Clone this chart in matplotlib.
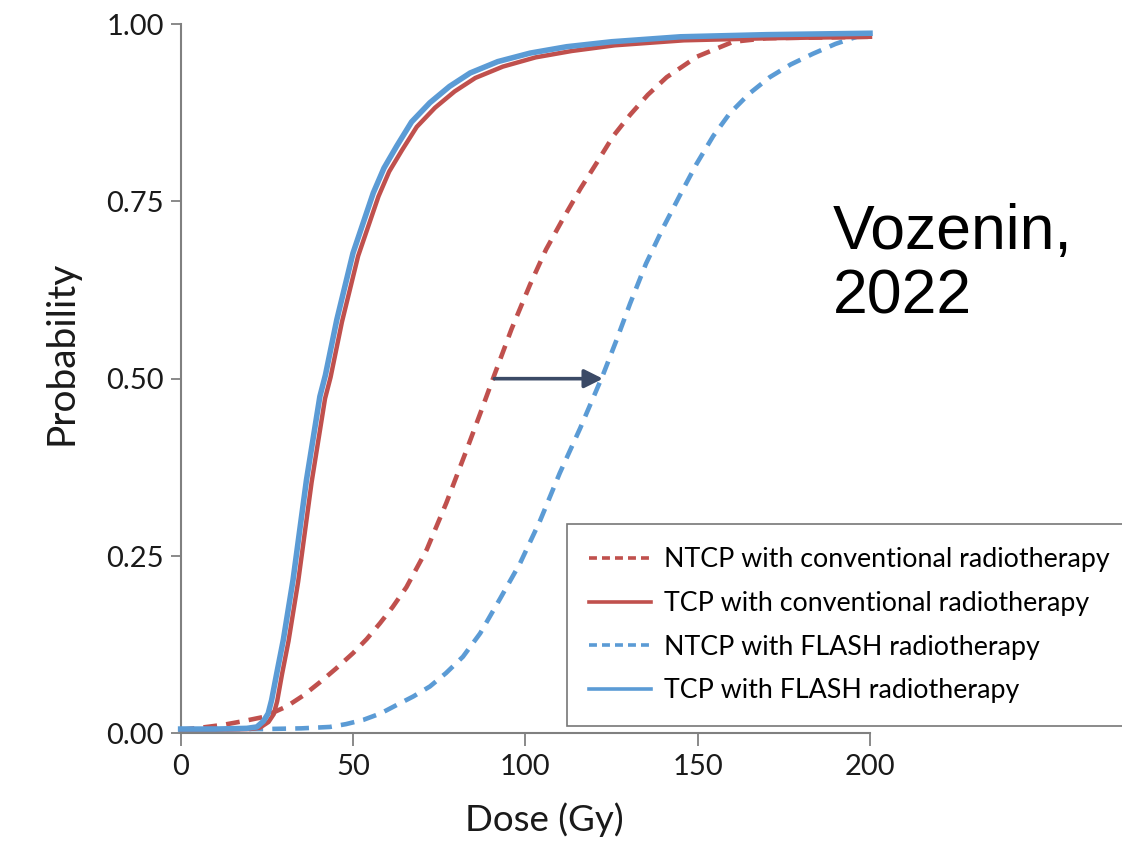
import numpy as np
import matplotlib
matplotlib.use("Agg")
import matplotlib.pyplot as plt
from matplotlib.lines import Line2D

plt.rcParams['font.family'] = ['Lato', 'DejaVu Sans']

# dose (Gy) / probability pairs for each curve
tcp_flash_dose = [0, 10, 19.2, 22.1, 24.0, 25.4, 26.4, 27.9, 29.8, 32.6, 36.5, 40.4,
                  42, 45.3, 50, 55.9, 59, 62.7, 67, 72.3, 78, 84, 92, 101.4, 112,
                  125, 145, 170, 200]
tcp_flash_prob = [0.006, 0.006, 0.007, 0.009, 0.017, 0.028, 0.047, 0.085, 0.132,
                  0.216, 0.357, 0.475, 0.505, 0.583, 0.677, 0.762, 0.797, 0.828,
                  0.862, 0.889, 0.912, 0.931, 0.947, 0.959, 0.968, 0.975, 0.982,
                  0.985, 0.987]

tcp_conv_dose = [0, 10, 20, 23, 25.5, 27, 28, 29.4, 31.3, 34.1, 38, 41.9, 43.5,
                 46.8, 51.5, 57.4, 60.5, 64.2, 68.5, 73.8, 79.5, 85.5, 93.5, 103,
                 113.5, 126, 146, 171, 200]
tcp_conv_prob = [0.005, 0.005, 0.006, 0.008, 0.016, 0.027, 0.045, 0.083, 0.130,
                 0.214, 0.354, 0.472, 0.502, 0.580, 0.673, 0.757, 0.792, 0.822,
                 0.855, 0.882, 0.905, 0.924, 0.940, 0.953, 0.962, 0.970, 0.977,
                 0.980, 0.982]

ntcp_conv_dose = [0, 6, 12.4, 18, 24, 30.8, 35.5, 40.4, 45, 50, 54, 57.8, 61.5,
                  65.5, 71.4, 77.1, 83, 87, 91, 96, 101.4, 106, 111, 116, 120.8,
                  125.5, 130.4, 135.5, 141, 149.8, 160.3, 170, 200]
ntcp_conv_prob = [0.005, 0.008, 0.012, 0.017, 0.023, 0.038, 0.053, 0.072, 0.091,
                  0.113, 0.133, 0.155, 0.178, 0.206, 0.259, 0.325, 0.400, 0.452,
                  0.505, 0.570, 0.633, 0.682, 0.726, 0.768, 0.805, 0.842, 0.872,
                  0.900, 0.925, 0.954, 0.975, 0.980, 0.982]

ntcp_flash_dose = [0, 24, 35, 43.3, 48, 53, 58, 62.7, 67.5, 72.3, 77, 81.9, 86.9,
                   92.7, 98.5, 104.3, 110, 115.9, 122.5, 126.5, 130.4, 135, 140,
                   145, 149.7, 154.5, 159.3, 165, 170.9, 177, 183.4, 190, 196.1, 200]
ntcp_flash_prob = [0.006, 0.006, 0.007, 0.009, 0.013, 0.019, 0.028, 0.040, 0.052,
                   0.066, 0.085, 0.108, 0.141, 0.190, 0.240, 0.300, 0.367, 0.430,
                   0.505, 0.555, 0.606, 0.662, 0.713, 0.760, 0.803, 0.842, 0.874,
                   0.902, 0.925, 0.943, 0.958, 0.972, 0.982, 0.985]

# NTCP shift at 50 % probability
shift_start = 91
shift_end = 122.5
shift_level = 0.5

labels = ['NTCP with conventional radiotherapy',
          'TCP with conventional radiotherapy',
          'NTCP with FLASH radiotherapy',
          'TCP with FLASH radiotherapy']

RED = '#c0504d'
BLUE = '#5b9bd5'
AXIS_GREY = '#808080'
DASH = (0, (3.0, 2.0))

fig = plt.figure(figsize=(11.22, 8.43), dpi=100)
ax = fig.add_axes([0.161, 0.1301, 0.6144, 0.8414])

ax.plot(ntcp_conv_dose, ntcp_conv_prob, color=RED, lw=3.3, ls=DASH,
        clip_on=False, zorder=3)
ax.plot(tcp_conv_dose, tcp_conv_prob, color=RED, lw=3.2,
        clip_on=False, zorder=4)
ax.plot(ntcp_flash_dose, ntcp_flash_prob, color=BLUE, lw=3.3, ls=DASH,
        clip_on=False, zorder=3)
ax.plot(tcp_flash_dose, tcp_flash_prob, color=BLUE, lw=4.0,
        clip_on=False, zorder=5)

ax.annotate('', xy=(shift_end, shift_level), xytext=(shift_start, shift_level),
            arrowprops=dict(arrowstyle='-|>', color='#3b4a66', lw=2.6,
                            mutation_scale=28, shrinkA=0, shrinkB=0),
            zorder=6)

ax.set_xlim(0, 200)
ax.set_ylim(0, 1)
ax.set_xticks([0, 50, 100, 150, 200])
ax.set_yticks([0, 0.25, 0.5, 0.75, 1.0])
ax.set_yticklabels(['0.00', '0.25', '0.50', '0.75', '1.00'])

for side in ['top', 'right']:
    ax.spines[side].set_visible(False)
for side in ['left', 'bottom']:
    ax.spines[side].set_color(AXIS_GREY)
    ax.spines[side].set_linewidth(1.5)

ax.tick_params(axis='both', colors=AXIS_GREY, labelcolor='#1a1a1a',
               labelsize=21, width=1.3)
ax.tick_params(axis='x', length=9, pad=6)
ax.tick_params(axis='y', length=7, pad=5)

ax.set_xlabel('Dose (Gy)', fontsize=26.5, color='#1a1a1a')
ax.set_ylabel('Probability', fontsize=28, color='#1a1a1a')
ax.xaxis.set_label_coords(0.527, -0.098)
ax.yaxis.set_label_coords(-0.146, 0.536)

# legend handles with a tighter dash than the plotted curves
handles = [Line2D([], [], color=RED, lw=2.6, ls=(0, (2.2, 1.4))),
           Line2D([], [], color=RED, lw=2.6),
           Line2D([], [], color=BLUE, lw=2.6, ls=(0, (2.2, 1.4))),
           Line2D([], [], color=BLUE, lw=2.6)]
leg = fig.legend(handles, labels, loc='upper left', bbox_to_anchor=(0.505, 0.378),
                 fontsize=19.3, frameon=True, fancybox=False, edgecolor='#555555',
                 handlelength=2.3, handletextpad=0.5, labelspacing=0.70,
                 borderpad=0.85, borderaxespad=0)
leg.get_frame().set_linewidth(1.2)
leg.set_zorder(10)

fig.text(0.742, 0.6127, 'Vozenin,\n2022', fontsize=45, family='Liberation Sans',
         color='black', linespacing=1.12, va='bottom', ha='left')

fig.savefig('out.png', dpi=100)
